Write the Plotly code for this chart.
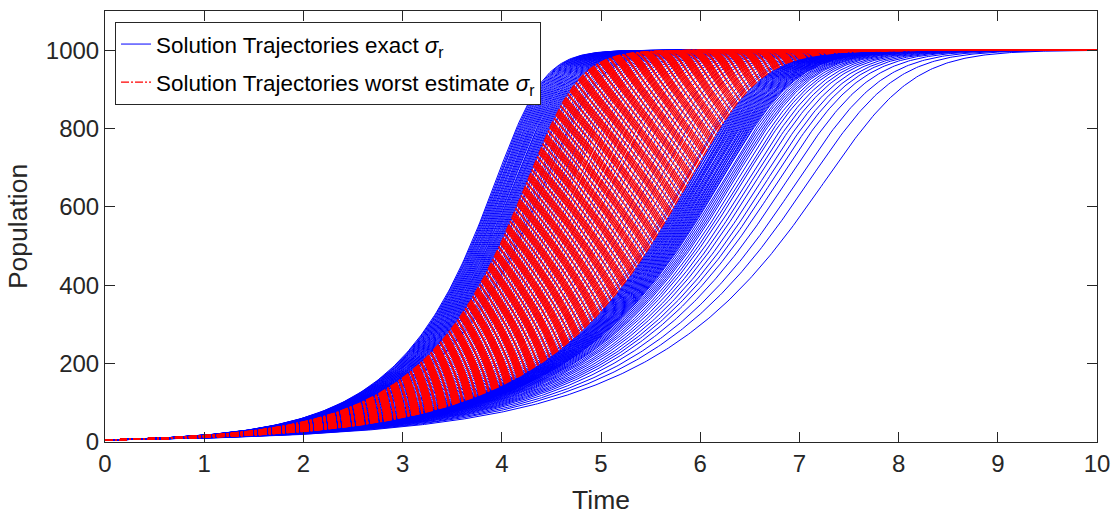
import numpy as np
import plotly.graph_objects as go

# ---- data ----
K = 1000.0          # carrying capacity
P0 = 5.0            # initial population
THETA = 4.0         # shape exponent of the growth law
T_END = 10.0

# growth rates of the trajectories drawn with the exact sigma_r
exact_rates = [
    1.2557, 1.2523, 1.2489, 1.2456, 1.2422, 1.2389, 1.2356, 1.2323, 1.2290, 1.2257,
    1.2225, 1.2193, 1.2161, 1.2129, 1.2097, 1.2065, 1.2034, 1.2003, 1.1972, 1.1941,
    1.1910, 1.1879, 1.1849, 1.1818, 1.1788, 1.1758, 1.1728, 1.1699, 1.1669, 1.1640,
    1.1611, 1.1553, 1.1524, 1.1467, 1.1382, 1.1326,
    1.1271, 1.1216, 1.1162, 1.1135, 1.1082, 1.1002, 1.0924, 1.0847, 1.0772, 1.0697,
    1.0623, 1.0550, 1.0478, 1.0384, 1.0315, 1.0223, 1.0134, 1.0046, 0.9959, 0.9874,
    0.9790, 0.9708, 0.9627, 0.9528, 0.9450, 0.9354, 0.9279, 0.9187, 0.9114, 0.9025,
    0.8955, 0.8869, 0.8802, 0.8719, 0.8654, 0.8589, 0.8526, 0.8479, 0.8448,
    0.8402, 0.8387, 0.8371, 0.8356, 0.8341, 0.8326, 0.8311, 0.8296, 0.8281, 0.8267,
    0.8252, 0.8237, 0.8222, 0.8208, 0.8193, 0.8179, 0.8164, 0.8150, 0.8136, 0.8121,
    0.8107, 0.8093, 0.8079, 0.8065, 0.8051, 0.8037, 0.8023, 0.8009, 0.7995, 0.7981,
    0.7967, 0.7940, 0.7913, 0.7886, 0.7859, 0.7832, 0.7806, 0.7766, 0.7727, 0.7689,
    0.7638, 0.7588, 0.7538, 0.7477, 0.7417, 0.7358, 0.7289,
    0.7198, 0.7087, 0.6970, 0.6816,
]

# growth rates of the trajectories drawn with the worst-estimate sigma_r
worst_rates = [
    1.162, 1.159, 1.156, 1.153,
    1.150, 1.147, 1.144, 1.141, 1.138, 1.135, 1.132, 1.129, 1.126, 1.123,
    1.120, 1.117, 1.114, 1.111, 1.108, 1.105, 1.102, 1.099, 1.096, 1.093,
    1.090, 1.087, 1.084, 1.081, 1.078, 1.075, 1.072, 1.069, 1.066, 1.063,
    1.060, 1.057, 1.054, 1.051, 1.048, 1.045, 1.042, 1.039, 1.036, 1.033,
    1.030, 1.027, 1.024, 1.021, 1.018, 1.015, 1.012, 1.009, 1.006, 1.003,
    1.000, 0.997, 0.994, 0.991, 0.988, 0.985, 0.982, 0.979, 0.976, 0.973,
    0.970, 0.967, 0.964, 0.961, 0.958, 0.955, 0.952, 0.949, 0.946, 0.943,
    0.940, 0.937, 0.934, 0.931, 0.928, 0.925, 0.922, 0.919, 0.916, 0.913,
    0.910, 0.907, 0.904, 0.901, 0.898, 0.895, 0.892, 0.889, 0.886, 0.883,
    0.880, 0.877, 0.874, 0.871, 0.868, 0.865, 0.862, 0.859, 0.856, 0.853,
    0.850, 0.847, 0.844, 0.841,
]

x_ticks = [0, 1, 2, 3, 4, 5, 6, 7, 8, 9, 10]
y_ticks = [0, 200, 400, 600, 800, 1000]

# ---- model solution ----
t = np.linspace(0.0, T_END, 501)


def trajectory(r):
    w0 = (K / P0) ** THETA
    return K * (1.0 + (w0 - 1.0) * np.exp(-r * THETA * t)) ** (-1.0 / THETA)


def stacked(rates):
    xs, ys = [], []
    for r in rates:
        xs.extend(t.tolist())
        xs.append(None)
        ys.extend(trajectory(r).tolist())
        ys.append(None)
    return xs, ys


bx, by = stacked(exact_rates)
rx, ry = stacked(worst_rates)

FONT = "Liberation Sans, Arial, sans-serif"
AX = "#262626"

fig = go.Figure()
fig.add_trace(go.Scatter(
    x=bx, y=by, mode="lines",
    line=dict(color="#0000ff", width=1.0),
    name="Solution Trajectories exact <i>σ</i><sub>r</sub>",
    legendgroup="a", hoverinfo="skip",
))
fig.add_trace(go.Scatter(
    x=rx, y=ry, mode="lines",
    line=dict(color="#ff0000", width=1.3, dash="8px,2px,2px,2px"),
    name="Solution Trajectories worst estimate <i>σ</i><sub>r</sub>",
    legendgroup="b", hoverinfo="skip",
))

fig.update_layout(
    width=1113, height=515,
    margin=dict(l=105, r=16, t=11, b=73, autoexpand=False),
    paper_bgcolor="white", plot_bgcolor="white",
    font=dict(family=FONT, color=AX),
    showlegend=True,
    legend=dict(
        x=0.0101, y=0.9745, xanchor="left", yanchor="top",
        bgcolor="white", bordercolor=AX, borderwidth=1,
        font=dict(size=22.4, color="#000000", family=FONT),
        itemwidth=30, tracegroupgap=6,
    ),
    xaxis=dict(
        range=[0, 10], tickmode="array", tickvals=x_ticks,
        ticks="inside", ticklen=10, tickcolor=AX, tickwidth=1,
        showline=True, linecolor=AX, linewidth=1, mirror="ticks",
        showgrid=False, zeroline=False, automargin=False,
        tickfont=dict(size=24, color=AX),
        title=dict(text="Time", font=dict(size=26.5, color=AX), standoff=15),
    ),
    yaxis=dict(
        range=[0, 1100], tickmode="array", tickvals=y_ticks,
        ticks="inside", ticklen=10, tickcolor=AX, tickwidth=1,
        showline=True, linecolor=AX, linewidth=1, mirror="ticks",
        showgrid=False, zeroline=False, automargin=False,
        tickfont=dict(size=24, color=AX),
        title=dict(text="Population", font=dict(size=26.5, color=AX), standoff=10),
    ),
)

fig.write_html("out.html")
